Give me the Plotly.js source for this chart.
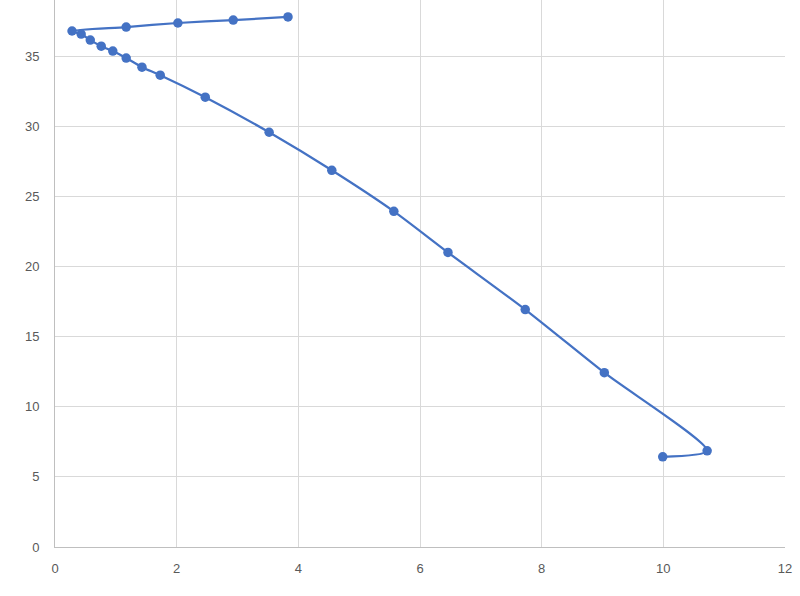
<!DOCTYPE html>
<html>
<head>
<meta charset="utf-8">
<script src="https://cdn.plot.ly/plotly-3.0.1.min.js"></script>
<style>html,body{margin:0;padding:0;background:#fff;}#chart{width:800px;height:596px;}</style>
</head>
<body>
<div id="chart"></div>
<script>
const xValues = [3.83, 2.93, 2.02, 1.17, 0.28, 0.43, 0.58, 0.76, 0.95, 1.17, 1.43, 1.73, 2.47, 3.52, 4.55, 5.57, 6.46, 7.73, 9.03, 10.72, 9.99];
const yValues = [37.79, 37.57, 37.36, 37.07, 36.79, 36.57, 36.14, 35.71, 35.36, 34.86, 34.21, 33.64, 32.07, 29.57, 26.86, 23.93, 21.0, 16.93, 12.43, 6.86, 6.43];
const xTicks = [0, 2, 4, 6, 8, 10, 12];
const yTicks = [0, 5, 10, 15, 20, 25, 30, 35];

const trace = {
  x: xValues, y: yValues,
  type: 'scatter', mode: 'lines+markers',
  line: {color: '#4472C4', width: 2.25, shape: 'spline', smoothing: 0.7},
  marker: {color: '#4472C4', size: 9.5},
  cliponaxis: false,
  hoverinfo: 'skip'
};

const tickFont = {family: 'Liberation Sans Narrow, Liberation Sans, Arial, sans-serif', size: 13, color: '#595959'};

const layout = {
  width: 800, height: 596,
  margin: {l: 55, r: 15, t: 0, b: 49},
  paper_bgcolor: '#ffffff', plot_bgcolor: '#ffffff',
  showlegend: false,
  xaxis: {
    range: [0, 12], tickvals: xTicks, ticktext: xTicks.map(String),
    showgrid: true, gridcolor: '#d9d9d9', gridwidth: 1,
    zeroline: false, showline: true, linecolor: '#bfbfbf', linewidth: 1,
    ticks: '', tickfont: tickFont, ticklabelstandoff: 9, fixedrange: true
  },
  yaxis: {
    range: [0, 39], tickvals: yTicks, ticktext: yTicks.map(String),
    showgrid: true, gridcolor: '#d9d9d9', gridwidth: 1,
    zeroline: false, showline: true, linecolor: '#bfbfbf', linewidth: 1,
    ticks: '', tickfont: tickFont, ticklabelstandoff: 12, fixedrange: true
  }
};

Plotly.newPlot('chart', [trace], layout, {displayModeBar: false, staticPlot: true});
</script>
</body>
</html>
